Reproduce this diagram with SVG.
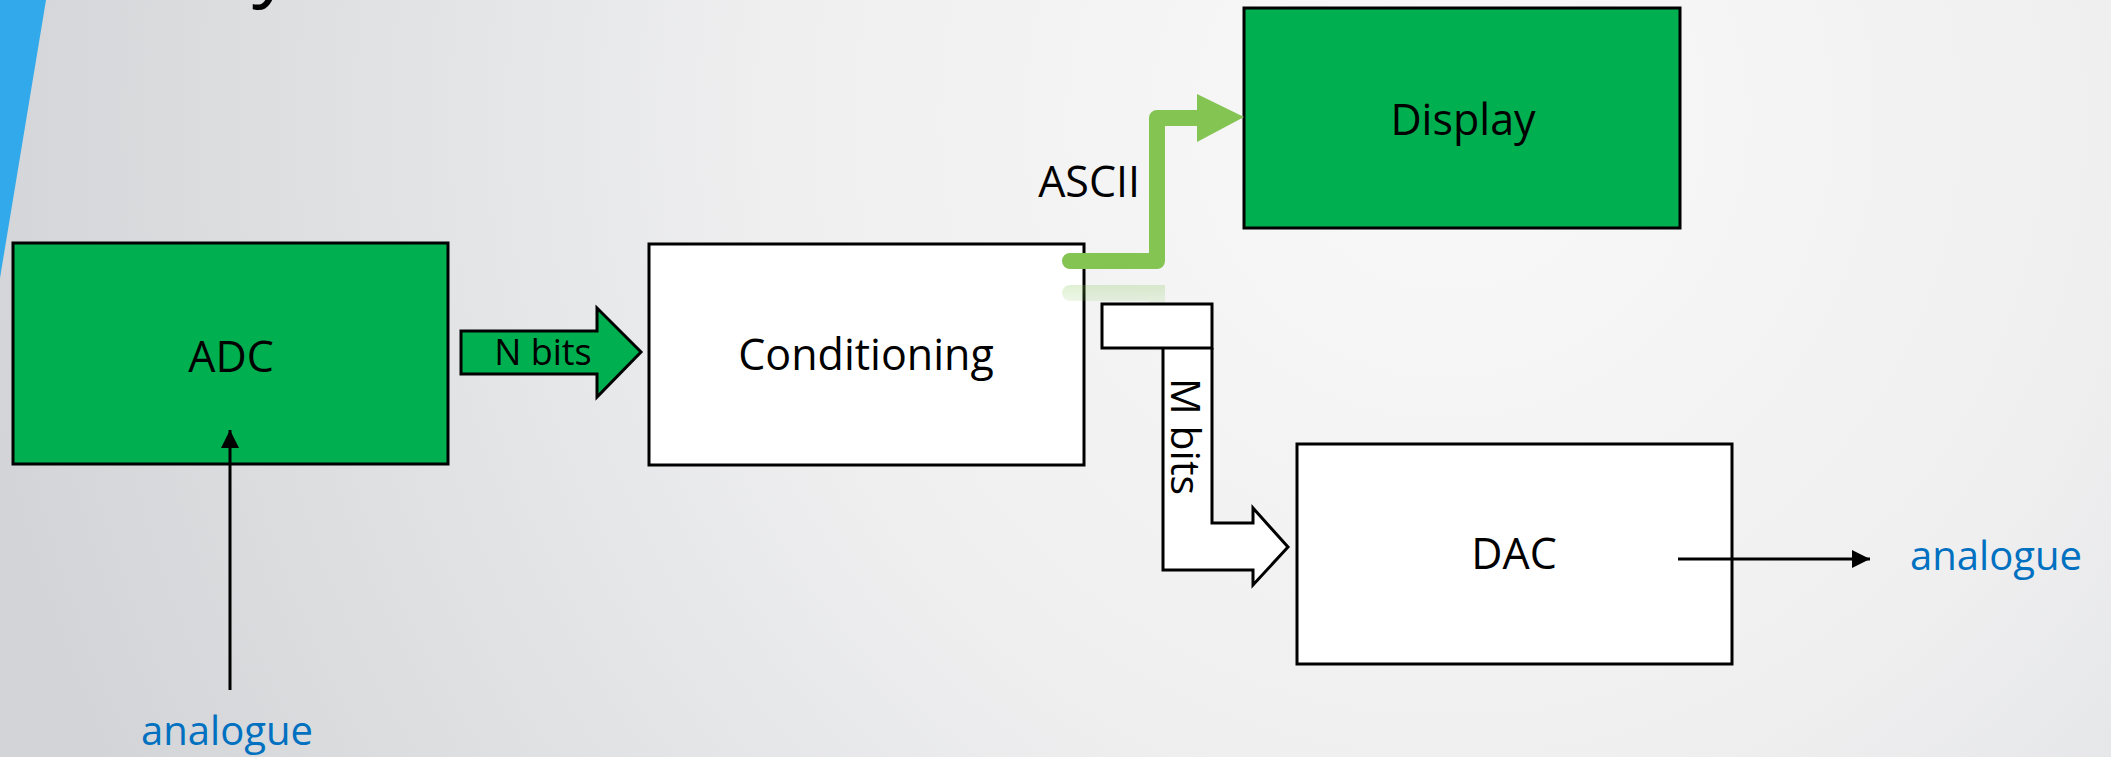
<svg xmlns="http://www.w3.org/2000/svg" width="2111" height="757" viewBox="0 0 2111 757">
<defs>
<radialGradient id="bg" cx="1450" cy="120" r="1500" gradientUnits="userSpaceOnUse">
<stop offset="0" stop-color="#F9F9F9"/>
<stop offset="0.45" stop-color="#EFEFF0"/>
<stop offset="1" stop-color="#D2D4D7"/>
</radialGradient>
<linearGradient id="refl" x1="0" y1="272" x2="0" y2="320" gradientUnits="userSpaceOnUse">
<stop offset="0" stop-color="#83C453" stop-opacity="0.35"/>
<stop offset="1" stop-color="#83C453" stop-opacity="0"/>
</linearGradient>
<marker id="ah" viewBox="0 0 10 10" refX="10" refY="5" markerWidth="6" markerHeight="6" markerUnits="strokeWidth" orient="auto">
<path d="M0,0 L10,5 L0,10 Z" fill="#000"/>
</marker>
</defs>
<style>
.box{stroke:#000;stroke-width:3}
.green{fill:#00AF50}
.white{fill:#FFFFFF}
.lbl{font-family:"Open Sans","Liberation Sans",sans-serif;font-size:43px;fill:#000}
.blue{font-family:"Open Sans","Liberation Sans",sans-serif;font-size:40px;fill:#0070C0}
.wire{stroke:#000;stroke-width:3;fill:none}
</style>
<rect width="2111" height="757" fill="url(#bg)"/>
<polygon points="0,0 46,0 0,278" fill="#31A9EA"/>
<text x="252" y="-9" font-family="Open Sans, sans-serif" font-size="80" fill="#000">y</text>

<g id="adc">
<rect class="box green" x="13" y="243" width="435" height="221"/>
<text class="lbl" x="231" y="372" text-anchor="middle">ADC</text>
</g>
<g id="conditioning">
<rect class="box white" x="649" y="244" width="435" height="221"/>
<text class="lbl" x="866" y="370" text-anchor="middle">Conditioning</text>
</g>
<g id="display">
<rect class="box green" x="1244" y="8" width="436" height="220"/>
<text class="lbl" x="1463" y="135" text-anchor="middle">Display</text>
</g>
<g id="dac">
<rect class="box white" x="1297" y="444" width="435" height="220"/>
<text class="lbl" x="1514" y="569" text-anchor="middle">DAC</text>
</g>

<g id="connectors">
<line class="wire" x1="230" y1="690" x2="230" y2="430" marker-end="url(#ah)"/>
<line class="wire" x1="1678" y1="559" x2="1870" y2="559" marker-end="url(#ah)"/>
<g id="nbits">
<polygon points="461,331 597,331 597,308 641,352 597,397 597,374 461,374" fill="#00AF50" stroke="#000" stroke-width="3" stroke-linejoin="miter"/>
<text x="543" y="365" text-anchor="middle" font-family="Open Sans, Liberation Sans, sans-serif" font-size="36" fill="#000">N bits</text>
</g>
<g id="ascii">
<path d="M1070,293 L1157,293 L1157,315" fill="none" stroke="url(#refl)" stroke-width="16" stroke-linecap="round"/>
<path d="M1070,261 L1157,261 L1157,118 L1200,118" fill="none" stroke="#83C453" stroke-width="16" stroke-linecap="round" stroke-linejoin="round"/>
<polygon points="1197,94 1244,117 1197,142" fill="#83C453"/>
<text x="1140" y="197" text-anchor="end" class="lbl">ASCII</text>
</g>
<g id="mbits">
<path d="M1212,348 L1212,523 L1253,523 L1253,508 L1288,547 L1253,585 L1253,570 L1163,570 L1163,348" fill="#FFFFFF" stroke="#000" stroke-width="3"/>
<rect x="1102" y="304" width="110" height="44" fill="#FFFFFF" stroke="#000" stroke-width="3"/>
<text transform="translate(1171,378) rotate(90)" font-family="Open Sans, Liberation Sans, sans-serif" font-size="41" fill="#000">M bits</text>
</g>
</g>

<text class="blue" x="1996" y="570" text-anchor="middle">analogue</text>
<text class="blue" x="227" y="745" text-anchor="middle">analogue</text>
</svg>
